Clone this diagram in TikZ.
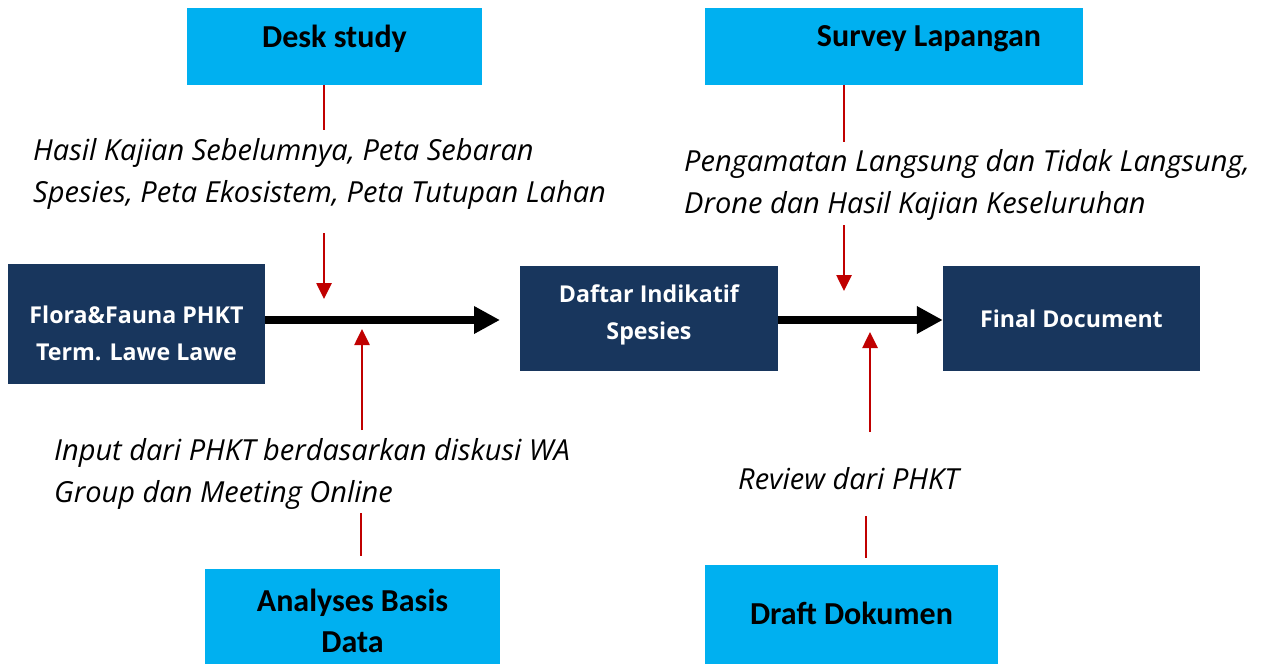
\documentclass[tikz,border=0pt]{standalone}
\usepackage{fontspec}
\setmainfont{Open Sans}
\newfontfamily\carl{Carlito}
\usetikzlibrary{arrows.meta}
\definecolor{lightb}{HTML}{00B0F0}
\definecolor{navy}{HTML}{18365D}
\definecolor{redc}{HTML}{C00000}
\tikzset{
  lbox/.style={fill=lightb, draw=none, inner sep=0pt},
  dbox/.style={fill=navy, draw=none, inner sep=0pt},
  ltext/.style={font=\carl\bfseries\fontsize{32}{41}\selectfont, text=black, align=center, inner sep=0pt},
  dtext/.style={font=\bfseries\fontsize{23.2}{37}\selectfont, text=white, align=center, inner sep=0pt},
  itext/.style={font=\itshape\fontsize{29}{42.5}\selectfont, text=black, align=left, inner sep=0pt, anchor=west},
  redline/.style={draw=redc, line width=2.6pt},
  redarr/.style={draw=redc, line width=2.6pt, -{Triangle[width=15pt,length=16pt]}},
  blkarr/.style={draw=black, line width=8pt, -{Triangle[width=26pt,length=26pt]}},
}
\begin{document}
\begin{tikzpicture}[x=1pt,y=-1pt]
\useasboundingbox (0,0) rectangle (1272,664);
% boxes
\node[lbox, minimum width=295pt, minimum height=77pt] (ds) at (334.5,46.5) {};
\node[ltext] (dst) at (334.5,39) {Desk study};
\node[lbox, minimum width=378pt, minimum height=77pt] (sl) at (894,46.5) {};
\node[ltext] (slt) at (929,39) {Survey Lapangan};
\node[dbox, minimum width=257pt, minimum height=120pt] (ff) at (136.5,324) {};
\node[dtext] (fft) at (136.5,333) {Flora\&Fauna PHKT\\Term. Lawe Lawe};
\node[dbox, minimum width=258pt, minimum height=105pt] (di) at (649,318.5) {};
\node[dtext] (dit) at (649,314.5) {Daftar Indikatif\\Spesies};
\node[dbox, minimum width=257pt, minimum height=105pt] (fd) at (1071.5,318.5) {};
\node[dtext] (fdt) at (1071.5,319) {Final Document};
\node[lbox, minimum width=295pt, minimum height=95pt] (ab) at (352.5,616.5) {};
\node[ltext] (abt) at (352.5,621) {Analyses Basis\\Data};
\node[lbox, minimum width=293pt, minimum height=99pt] (dd) at (851.5,614.5) {};
\node[ltext] (ddt) at (851.5,613) {Draft Dokumen};
% italic texts
\node[itext] (t1) at (33,174) {Hasil Kajian Sebelumnya, Peta Sebaran\\Spesies, Peta Ekosistem, Peta Tutupan Lahan};
\node[itext] (t2) at (684,185) {Pengamatan Langsung dan Tidak Langsung,\\Drone dan Hasil Kajian Keseluruhan};
\node[itext] (t3) at (54,474) {Input dari PHKT berdasarkan diskusi WA\\Group dan Meeting Online};
\node[itext] (t4) at (738,479) {Review dari PHKT};
% coordinates
\coordinate (c1a) at (324,130);
\coordinate (c1b) at (324,233);
\coordinate (c1c) at (324,299);
\coordinate (c2a) at (844,142);
\coordinate (c2b) at (844,225);
\coordinate (c2c) at (844,291);
\coordinate (c3a) at (362,430);
\coordinate (c3b) at (362,329);
\coordinate (c3c) at (361,513);
\coordinate (c4a) at (870,432);
\coordinate (c4b) at (870,332);
\coordinate (c4c) at (866,516);
\coordinate (tip1) at (500,320);
% connectors
\draw[blkarr] (ff.east |- tip1) -- (tip1);
\draw[blkarr] (di.east |- tip1) -- (fd.west |- tip1);
\draw[redline] (ds.south -| c1a) -- (c1a);
\draw[redarr] (c1b) -- (c1c);
\draw[redline] (sl.south -| c2a) -- (c2a);
\draw[redarr] (c2b) -- (c2c);
\draw[redarr] (c3a) -- (c3b);
\draw[redline] (ab.north -| c3c) ++(0,-13) -- (c3c);
\draw[redarr] (c4a) -- (c4b);
\draw[redline] (dd.north -| c4c) ++(0,-7) -- (c4c);
\end{tikzpicture}
\end{document}
